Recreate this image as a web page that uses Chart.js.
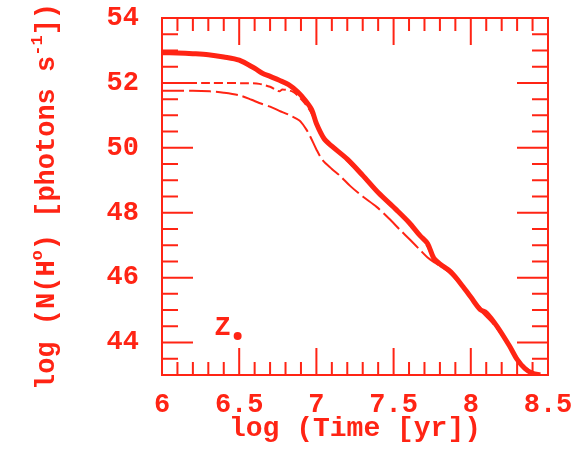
<!DOCTYPE html>
<html lang="en">
<head>
  <meta charset="UTF-8" />
  <title>log N(H°) vs log Time</title>
  <style>
    body {
      margin: 0;
      background-color: #fff;
    }
    #wrap {
      width: 588px;
      height: 449px;
    }
  </style>
  <script src="https://cdn.jsdelivr.net/npm/chart.js"></script>
</head>
<body>
  <div id="wrap"><canvas id="ionChart"></canvas></div>

  <script>
    const RED = '#ff2414';
    const FONT = "'Liberation Mono', 'Courier New', monospace";

    // tick values + labels
    const xTicks = [6, 6.5, 7, 7.5, 8, 8.5];
    const xTickLabels = ['6', '6.5', '7', '7.5', '8', '8.5'];
    const yTicks = [44, 46, 48, 50, 52, 54];
    const yTickLabels = ['44', '46', '48', '50', '52', '54'];

    // thick solid track
    const solidT = [6.00, 6.10, 6.20, 6.30, 6.40, 6.50, 6.60, 6.65, 6.70, 6.76, 6.82, 6.88, 6.93, 6.97, 7.00, 7.05, 7.10, 7.20, 7.30, 7.40, 7.52, 7.60, 7.67, 7.72, 7.76, 7.80, 7.87, 7.95, 8.00, 8.06, 8.10, 8.17, 8.25, 8.30, 8.35, 8.40, 8.45];
    const solidN = [52.93, 52.92, 52.90, 52.87, 52.80, 52.70, 52.45, 52.30, 52.20, 52.08, 51.95, 51.72, 51.45, 51.17, 50.75, 50.28, 50.05, 49.65, 49.15, 48.62, 48.08, 47.70, 47.30, 47.05, 46.60, 46.42, 46.18, 45.72, 45.40, 45.02, 44.92, 44.50, 43.90, 43.48, 43.20, 43.05, 43.00];

    // short dashed track
    const shortT = [6.00, 6.30, 6.55, 6.63, 6.70, 6.76, 6.78, 6.85, 6.92, 6.97, 7.01, 7.06, 7.15, 7.30, 7.45, 7.58, 7.66, 7.72, 7.77, 7.82, 7.90, 8.00, 8.10, 8.20, 8.30, 8.40];
    const shortN = [52.00, 52.00, 51.99, 51.97, 51.88, 51.74, 51.80, 51.72, 51.40, 51.05, 50.60, 50.20, 49.85, 49.10, 48.42, 47.80, 47.38, 46.95, 46.50, 46.35, 46.02, 45.38, 44.88, 44.28, 43.50, 43.05];

    // long dashed track
    const longT = [6.00, 6.20, 6.31, 6.40, 6.50, 6.58, 6.63, 6.70, 6.76, 6.82, 6.89, 6.93, 6.96, 7.00, 7.04, 7.10, 7.15, 7.22, 7.30, 7.39, 7.47, 7.54, 7.61, 7.67, 7.72, 7.77, 7.85, 7.95, 8.05, 8.15, 8.25, 8.35, 8.42];
    const longN = [51.76, 51.76, 51.74, 51.70, 51.62, 51.48, 51.38, 51.27, 51.14, 51.02, 50.84, 50.60, 50.35, 49.95, 49.62, 49.35, 49.15, 48.82, 48.50, 48.18, 47.82, 47.48, 47.15, 46.86, 46.62, 46.45, 46.20, 45.70, 45.05, 44.55, 43.90, 43.20, 43.00];

    // the "Z" point
    const zT = [6.49];
    const zN = [44.20];

    function toPoints(xs, ys) {
      return xs.map((x, i) => ({ x: x, y: ys[i] }));
    }

    // y title with real superscripts: [text, isSup]
    const yTitleParts = [['log (N(H', false], ['o', true], [') [photons s', false], ['-1', true], ['])', false]];

    // box + inward ticks on all four sides, the Z label and the y title
    const frame = {
      id: 'frame',
      afterDatasetsDraw(chart) {
        const { ctx, chartArea: a, scales } = chart;
        const xs = scales.x, ys = scales.y;
        ctx.save();
        ctx.strokeStyle = RED;
        ctx.lineWidth = 2;
        ctx.strokeRect(a.left, a.top, a.right - a.left, a.bottom - a.top);
        ctx.beginPath();
        for (let i = 60; i <= 85; i++) {
          const px = xs.getPixelForValue(i / 10);
          const len = i % 5 === 0 ? 27 : 13;
          ctx.moveTo(px, a.bottom); ctx.lineTo(px, a.bottom - len);
          ctx.moveTo(px, a.top); ctx.lineTo(px, a.top + len);
        }
        for (let i = 86; i <= 108; i++) {
          const py = ys.getPixelForValue(i / 2);
          const len = i % 4 === 0 ? 31 : 16;
          ctx.moveTo(a.left, py); ctx.lineTo(a.left + len, py);
          ctx.moveTo(a.right, py); ctx.lineTo(a.right - len, py);
        }
        ctx.stroke();

        ctx.fillStyle = RED;

        // Z next to its dot
        const zx = xs.getPixelForValue(zT[0]);
        const zy = ys.getPixelForValue(zN[0]);
        ctx.font = 'bold 27px ' + FONT;
        ctx.textAlign = 'right';
        ctx.textBaseline = 'alphabetic';
        ctx.fillText('Z', zx - 7, zy - 1);

        // rotated y title
        const mainFont = 'bold 27px ' + FONT;
        const supFont = 'bold 17px ' + FONT;
        let total = 0;
        yTitleParts.forEach(([t, sup]) => {
          ctx.font = sup ? supFont : mainFont;
          total += ctx.measureText(t).width;
        });
        ctx.translate(47, (a.top + a.bottom) / 2);
        ctx.rotate(-Math.PI / 2);
        ctx.textAlign = 'left';
        ctx.textBaseline = 'middle';
        let cx = -total / 2;
        yTitleParts.forEach(([t, sup]) => {
          ctx.font = sup ? supFont : mainFont;
          ctx.fillText(t, cx, sup ? -9 : 0);
          cx += ctx.measureText(t).width;
        });
        ctx.restore();
      }
    };

    const ctx = document.getElementById('ionChart').getContext('2d');
    new Chart(ctx, {
      type: 'scatter',
      data: {
        datasets: [
          {
            data: toPoints(solidT, solidN),
            showLine: true,
            borderColor: RED,
            borderWidth: 5,
            pointRadius: 0,
            tension: 0.3
          },
          {
            data: toPoints(shortT, shortN),
            showLine: true,
            borderColor: RED,
            borderWidth: 2,
            borderDash: [9, 4],
            pointRadius: 0,
            tension: 0.3
          },
          {
            data: toPoints(longT, longN),
            showLine: true,
            borderColor: RED,
            borderWidth: 2,
            borderDash: [22, 5],
            pointRadius: 0,
            tension: 0.3
          },
          {
            data: toPoints(zT, zN),
            showLine: false,
            pointRadius: 4,
            pointBackgroundColor: RED,
            pointBorderWidth: 0
          }
        ]
      },
      options: {
        responsive: true,
        maintainAspectRatio: false,
        animation: false,
        layout: { padding: { top: 18, right: 40, left: 0, bottom: 0 } },
        plugins: {
          legend: { display: false },
          tooltip: { enabled: false }
        },
        scales: {
          x: {
            type: 'linear',
            min: 6,
            max: 8.5,
            grid: { display: false },
            border: { display: false },
            afterBuildTicks: s => { s.ticks = xTicks.map(v => ({ value: v })); },
            afterFit: s => { s.height = 74; },
            ticks: {
              color: RED,
              padding: 6,
              maxRotation: 0,
              autoSkip: false,
              font: { family: FONT, size: 27, weight: 'bold' },
              callback: (v) => xTickLabels[xTicks.indexOf(v)]
            },
            title: {
              display: true,
              text: 'log (Time [yr])',
              color: RED,
              padding: { top: 0, bottom: 3 },
              font: { family: FONT, size: 28, weight: 'bold' }
            }
          },
          y: {
            type: 'linear',
            min: 43,
            max: 54,
            grid: { display: false },
            border: { display: false },
            afterBuildTicks: s => { s.ticks = yTicks.map(v => ({ value: v })); },
            afterFit: s => { s.width = 162; },
            ticks: {
              color: RED,
              padding: 15,
              autoSkip: false,
              font: { family: FONT, size: 27, weight: 'bold', lineHeight: 0.2 },
              callback: (v) => yTickLabels[yTicks.indexOf(v)]
            }
          }
        }
      },
      plugins: [frame]
    });
  </script>
</body>
</html>
